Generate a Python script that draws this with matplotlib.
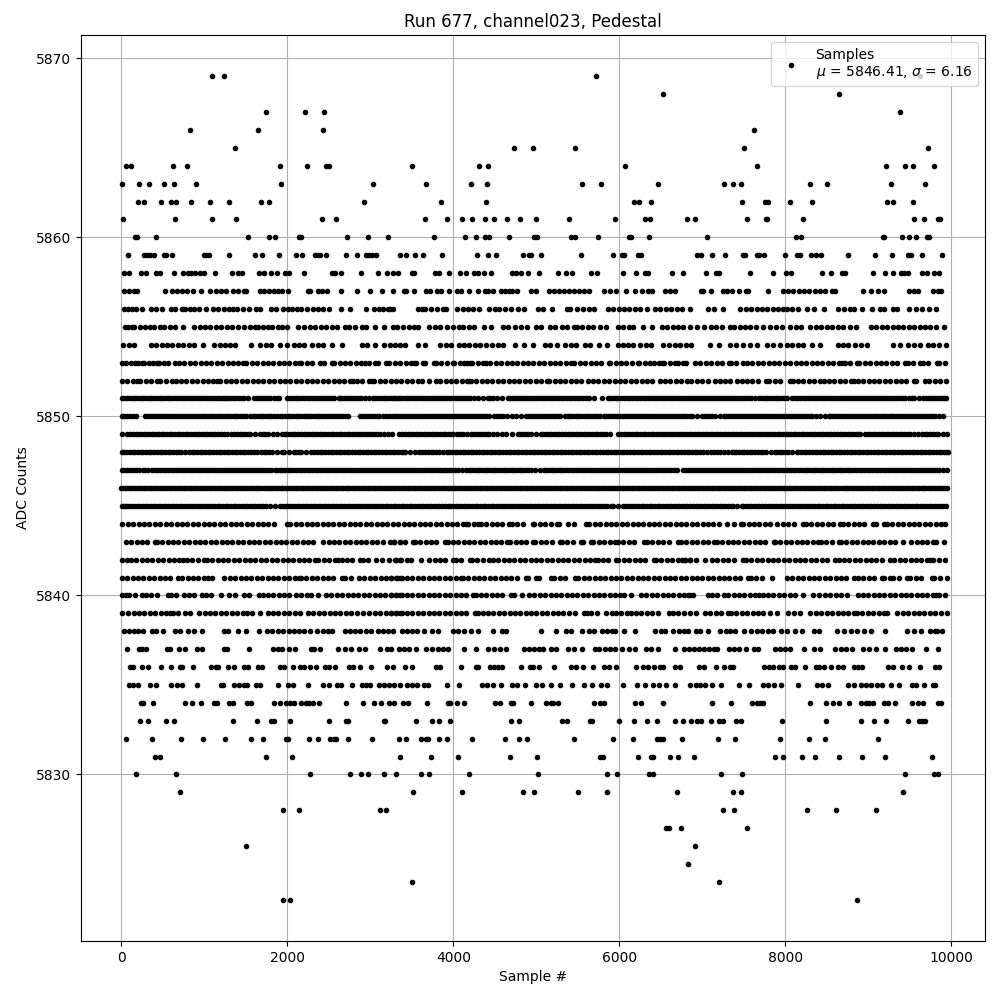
import matplotlib
matplotlib.use('Agg')
import matplotlib.pyplot as plt

# sample numbers, one list per ADC level
lvl_5869 = [1089,1234,5717,9622]
lvl_5868 = [6525,8645]
lvl_5867 = [1741,2211,2440,9381]
lvl_5866 = [824,1644,2428,7620]
lvl_5865 = [1367,4728,4958,5464,7500,9719]
lvl_5864 = [56,113,619,788,1910,2235,2464,2500,3498,4306,4415,6067,7657,9212,9441,9538,9791]
lvl_5863 = [4,209,330,511,631,896,1921,3031,3667,4210,4403,5548,5778,6465,7259,7367,7464,8296,8501,9273,9683]
lvl_5862 = [205,269,474,603,655,836,1065,1294,1680,1777,2922,3848,4391,6176,6236,6381,7476,7753,7789,8055,8320,9224,9297,9538]
lvl_5861 = [16,643,1089,1379,2416,2585,3655,3920,4101,4222,4379,4487,4644,4801,4994,5392,5946,6308,6369,6815,6909,7536,7765,7781,8211,9550,9671,9840,9864]
lvl_5860 = [169,189,414,1524,1777,1849,2143,2167,2718,2971,3212,3764,4137,4270,4379,4427,4668,4970,5002,5416,5464,5741,6115,6143,6357,7054,8127,8187,9176,9188,9405,9490,9574,9707,9735]
lvl_5859 = [76,269,310,350,390,511,539,607,993,1025,1057,1294,1608,1692,1897,2102,2175,2332,2368,2392,2464,2705,2838,2947,2983,3019,3067,3354,3426,3534,3631,3860,4282,4415,4511,4837,4909,4933,5054,5536,5922,6031,6055,6224,6260,6933,6981,7114,7271,7488,7512,7657,7681,7741,7994,8139,8175,8308,8368,8428,8754,9080,9285,9478,9518,9646,9888]
lvl_5858 = [28,88,237,293,414,462,631,740,800,836,892,945,993,1126,1331,1403,1451,1656,1717,1801,1873,1970,2018,2199,2537,2573,2645,2886,3091,3200,3272,3329,3506,3522,3776,3824,3944,4077,4150,4246,4294,4367,4451,4704,4753,4813,4897,5030,5259,5355,5428,5657,5729,6043,6200,6308,6344,6634,6767,7041,7162,7198,7572,7850,8006,8067,8440,8549,8682,8718,9056,9200,9297,9393,9429,9478,9646,9707,9791,9852]
lvl_5857 = [36,88,149,189,531,607,667,732,788,864,957,1065,1138,1198,1258,1343,1403,1475,1499,1668,1717,1777,1837,1885,1934,2006,2247,2271,2368,2416,2476,2645,2838,2995,3140,3272,3402,3434,3522,3667,3715,3800,3848,3944,4041,4089,4186,4294,4379,4415,4475,4572,4620,4668,4704,4765,4933,4994,5150,5211,5271,5331,5392,5452,5512,5573,5633,5814,5886,5958,6079,6188,6272,6344,6397,6549,6610,6670,6981,7005,7102,7247,7299,7355,7440,7524,7548,7789,7970,8030,8091,8163,8223,8284,8356,8416,8477,8561,8597,8935,9031,9116,9188,9490,9550,9598,9779,9840,9876]
lvl_5856 = [36,80,129,181,249,357,420,488,595,650,732,768,824,880,936,1021,1101,1166,1230,1294,1343,1394,1459,1540,1624,1668,1805,1860,1946,2010,2056,2110,2167,2236,2307,2368,2428,2505,2641,2750,2950,3047,3103,3152,3216,3272,3241,3570,3618,3658,3731,3804,3869,3911,4042,4120,4179,4240,4313,4432,4497,4555,4621,4691,4777,4849,5015,5080,5186,5369,5407,5489,5560,5628,5693,5859,5925,5990,6055,6120,6185,6250,6332,6430,6484,6562,6627,6692,6757,6852,7071,7140,7254,7457,7522,7587,7652,7717,7782,7847,7912,7977,8019,8084,8149,8259,8344,8465,8638,8701,8783,8829,8923,9043,9145,9183,9302,9344,9490,9575,9640,9726,9811]
lvl_5855 = [41,85,124,149,226,285,345,395,465,516,580,650,747,877,942,1007,1072,1137,1202,1267,1332,1410,1480,1545,1611,1641,1706,1771,1812,1882,1940,1993,2124,2202,2276,2335,2405,2470,2535,2600,2696,2747,2812,2897,2948,3058,3164,3269,3320,3390,3467,3525,3578,3708,3773,3838,3927,3993,4070,4120,4186,4246,4367,4455,4593,4658,4744,4814,4892,4995,5060,5158,5223,5304,5370,5447,5489,5554,5619,5684,5761,5834,5980,6045,6110,6164,6284,6389,6510,6575,6640,6705,6770,6852,6929,7017,7103,7168,7233,7334,7384,7449,7514,7579,7644,7736,7818,7883,7957,8060,8125,8190,8299,8369,8434,8499,8564,8629,8694,8781,8855,9032,9097,9162,9227,9292,9357,9422,9487,9552,9617,9682,9747,9812,9907]
lvl_5854 = [18,93,152,355,420,485,550,615,680,745,810,875,981,1119,1184,1249,1314,1370,1556,1668,1742,1807,1912,1998,2075,2140,2205,2294,2365,2430,2536,2657,2895,2958,3055,3169,3234,3299,3360,3417,3568,3658,3844,3909,3974,4072,4122,4187,4261,4323,4388,4470,4532,4603,4741,4856,4961,5103,5168,5254,5339,5417,5482,5580,5641,5749,5854,5980,6038,6100,6165,6243,6321,6384,6529,6603,6668,6733,6798,6860,7095,7205,7336,7401,7487,7577,7655,7773,7850,7934,8019,8084,8149,8214,8319,8416,8630,8695,8760,8842,8907,8987,9294,9376,9478,9555,9620,9714,9784,9849,9939]
lvl_5853 = [8,55,110,165,195,245,275,330,385,430,455,510,565,640,695,760,825,890,955,1020,1085,1150,1215,1280,1345,1410,1470,1505,1570,1635,1700,1765,1830,1895,1960,2025,2090,2135,2165,2230,2295,2390,2435,2535,2565,2630,2695,2760,2825,2890,2935,2980,3055,3095,3190,3230,3295,3360,3425,3490,3530,3545,3635,3660,3765,3790,3855,3920,3990,4010,4075,4130,4165,4200,4230,4295,4360,4395,4445,4510,4575,4640,4705,4770,4835,4900,4965,5030,5095,5160,5225,5290,5355,5415,5457,5522,5587,5652,5717,5782,5870,5890,5955,6020,6085,6150,6220,6240,6305,6370,6412,6475,6512,6542,6607,6672,6703,6768,6805,6910,6975,7040,7105,7170,7235,7315,7344,7409,7495,7537,7602,7667,7732,7797,7862,7927,7992,8057,8122,8187,8252,8317,8382,8447,8512,8577,8642,8682,8719,8784,8862,8892,8957,9022,9087,9152,9217,9282,9347,9445,9475,9540,9617,9655,9720,9826,9856,9927]
lvl_5852 = [5,70,135,192,226,291,356,433,467,532,606,660,717,782,847,912,977,1042,1107,1157,1191,1256,1321,1386,1451,1516,1581,1646,1711,1776,1841,1906,1971,2036,2101,2166,2231,2296,2361,2426,2491,2556,2621,2686,2757,2787,2837,2898,2980,3018,3048,3113,3178,3243,3308,3373,3438,3503,3568,3618,3708,3791,3841,3906,3971,4036,4101,4166,4193,4211,4276,4341,4406,4471,4536,4601,4666,4731,4796,4861,4926,4991,5056,5125,5155,5220,5285,5350,5415,5480,5540,5618,5683,5748,5813,5878,5943,6008,6073,6138,6203,6268,6333,6398,6492,6550,6615,6680,6745,6810,6860,6934,6999,7064,7153,7218,7272,7337,7414,7474,7537,7602,7667,7768,7806,7871,7936,8050,8088,8153,8218,8283,8348,8419,8461,8526,8591,8656,8721,8786,8829,8872,8937,9002,9067,9132,9197,9262,9327,9392,9457,9553,9575,9686,9736,9801,9866,9939]
lvl_5851 = [5,70,135,200,265,330,395,460,525,590,655,727,757,822,887,952,1017,1082,1147,1212,1261,1287,1352,1417,1482,1531,1601,1666,1731,1796,1872,1902,2001,2035,2100,2165,2234,2264,2329,2403,2433,2498,2563,2616,2630,2695,2760,2825,2890,2978,3028,3093,3158,3223,3288,3340,3359,3424,3489,3554,3619,3684,3749,3814,3879,3944,4009,4074,4139,4204,4250,4299,4362,4412,4477,4583,4653,4718,4783,4848,4913,4978,5043,5108,5173,5238,5303,5368,5433,5498,5563,5628,5698,5789,5859,5924,5989,6054,6119,6184,6249,6314,6379,6444,6509,6574,6639,6704,6769,6834,6899,6964,7029,7094,7159,7224,7289,7354,7419,7484,7549,7635,7686,7751,7816,7881,7946,8017,8080,8145,8210,8275,8340,8405,8470,8535,8600,8665,8730,8795,8860,8925,8990,9055,9120,9185,9250,9315,9380,9445,9525,9555,9658,9696,9761,9826,9891,9939,
            37,102,167,232,297,362,427,492,557,622,690,789,854,919,984,1049,1114,1179,1236,1319,1384,1449,1633,1698,1763,1834,2067,2132,2199,2296,2366,2465,2530,2662,2727,2792,2857,2934,3060,3125,3190,3255,3314,3391,3456,3521,3586,3651,3716,3781,3846,3911,3976,4041,4106,4171,4444,4530,4685,4750,4815,4880,4945,5010,5075,5140,5205,5270,5335,5400,5465,5530,5595,5891,5956,6021,6086,6151,6216,6281,6346,6411,6476,6541,6606,6671,6736,6801,6866,6931,6996,7061,7126,7191,7256,7321,7386,7451,7516,7590,7718,7783,7848,7913,7980,8112,8177,8242,8307,8372,8437,8502,8567,8632,8697,8762,8827,8892,8957,9022,9087,9152,9217,9282,9347,9412,9485,9606,9728,9793,9858,9915]
lvl_5850 = [5,70,144,174,284,315,380,445,510,575,640,705,770,835,900,965,1030,1095,1160,1225,1290,1355,1410,1440,1505,1591,1613,1678,1743,1808,1873,1938,2003,2068,2133,2198,2254,2276,2341,2395,2433,2498,2563,2628,2696,2730,2879,2944,3009,3078,3108,3190,3229,3294,3359,3424,3489,3554,3619,3684,3749,3814,3879,3944,4009,4074,4139,4201,4231,4296,4361,4434,4492,4557,4643,4700,4754,4876,4902,4967,5032,5097,5162,5227,5286,5344,5409,5474,5539,5604,5669,5734,5809,5839,5904,5969,6034,6099,6164,6229,6294,6359,6424,6489,6554,6619,6684,6749,6814,6879,6992,7022,7087,7152,7262,7284,7349,7414,7479,7544,7609,7674,7739,7804,7869,7934,7999,8064,8129,8194,8259,8324,8411,8478,8520,8542,8607,8672,8737,8802,8867,8932,8997,9062,9127,9192,9255,9282,9347,9412,9477,9542,9607,9672,9737,9802,9899,
            37,107,347,412,477,542,607,672,737,802,867,932,997,1062,1127,1192,1257,1322,1382,1472,1548,1645,1710,1775,1840,1905,1970,2035,2100,2165,2226,2308,2368,2465,2530,2595,2662,2911,2976,3043,3149,3261,3326,3391,3456,3521,3586,3651,3716,3781,3846,3911,3976,4041,4106,4170,4263,4328,4398,4524,4600,4815,4934,4999,5064,5129,5194,5256,5376,5441,5506,5571,5636,5701,5771,5871,5936,6001,6066,6131,6196,6261,6326,6391,6456,6521,6586,6651,6716,6781,6846,6935,7054,7119,7207,7316,7381,7446,7511,7576,7641,7706,7771,7836,7901,7966,8031,8096,8161,8226,8291,8367,8574,8639,8704,8769,8834,8899,8964,9029,9094,9159,9223,9314,9379,9444,9509,9574,9639,9704,9769,9850]
lvl_5849 = [5,63,105,170,235,300,365,430,485,515,580,645,710,775,840,905,970,1035,1100,1165,1230,1317,1360,1425,1490,1555,1671,1701,1766,1880,1935,2000,2065,2130,2195,2260,2325,2390,2455,2520,2585,2650,2715,2780,2845,2910,2975,3040,3118,3161,3259,3350,3415,3480,3545,3610,3675,3740,3805,3870,3935,4000,4080,4110,4213,4239,4304,4369,4434,4522,4584,4633,4776,4806,4871,4936,5053,5083,5148,5213,5278,5343,5408,5473,5538,5603,5668,5733,5798,5889,5988,6053,6118,6183,6248,6313,6378,6443,6508,6573,6638,6703,6768,6833,6898,6963,7028,7093,7158,7223,7288,7353,7418,7483,7548,7613,7678,7743,7808,7873,7938,8003,8068,8133,8198,8263,8328,8393,8458,8523,8588,8653,8718,8783,8848,8902,8964,9014,9052,9117,9182,9247,9312,9377,9442,9507,9597,9647,9712,9777,9842,9947,
            137,202,267,332,397,455,547,612,677,742,807,872,937,1002,1067,1132,1197,1275,1392,1457,1522,1612,1733,1822,1967,2032,2097,2162,2227,2292,2357,2422,2487,2552,2617,2682,2747,2812,2877,2942,3007,3080,3210,3382,3447,3512,3577,3642,3707,3772,3837,3902,3967,4040,4160,4271,4336,4401,4478,4700,4838,4903,4990,5115,5180,5245,5310,5375,5440,5505,5570,5635,5700,5765,5843,6020,6085,6150,6215,6280,6345,6410,6475,6540,6605,6670,6735,6800,6865,6930,6995,7060,7125,7190,7255,7320,7385,7450,7515,7580,7645,7710,7775,7840,7905,7970,8035,8100,8165,8230,8295,8360,8425,8490,8555,8620,8685,8750,8815,8875,8990,9084,9149,9214,9279,9344,9409,9474,9550,9679,9744,9809,9895]
lvl_5848 = [5,70,135,200,265,330,395,460,525,590,655,720,819,845,910,975,1040,1105,1170,1235,1300,1365,1430,1495,1560,1631,1681,1746,1811,1933,1955,2081,2103,2168,2282,2325,2390,2455,2520,2585,2650,2715,2780,2845,2910,2975,3040,3105,3170,3235,3300,3365,3417,3479,3537,3588,3653,3726,3756,3821,3927,3949,4014,4079,4144,4209,4274,4339,4404,4469,4534,4599,4664,4729,4794,4859,4924,4989,5054,5119,5184,5249,5314,5379,5444,5509,5574,5639,5704,5769,5834,5899,5964,6029,6094,6159,6224,6289,6354,6419,6484,6549,6614,6679,6744,6809,6874,6939,7004,7101,7143,7213,7264,7354,7376,7441,7506,7571,7636,7701,7766,7877,7899,7964,8029,8138,8156,8221,8286,8351,8416,8481,8546,8611,8676,8741,8806,8871,8936,9001,9066,9131,9196,9261,9326,9391,9456,9521,9586,9651,9716,9781,9846,9911,9955,
            37,102,167,232,297,362,427,492,557,622,687,770,877,942,1007,1072,1137,1202,1267,1332,1397,1462,1527,1595,1713,1778,1872,2018,2135,2225,2357,2422,2487,2552,2617,2682,2747,2812,2877,2942,3007,3072,3137,3202,3267,3332,3390,3620,3690,3788,3874,3981,4046,4111,4176,4241,4306,4371,4436,4501,4566,4631,4696,4761,4826,4891,4956,5021,5086,5151,5216,5281,5346,5411,5476,5541,5606,5671,5736,5801,5866,5931,5996,6061,6126,6191,6256,6321,6386,6451,6516,6581,6646,6711,6776,6841,6906,6971,7052,7178,7309,7408,7473,7538,7603,7668,7733,7821,7931,7996,8083,8188,8253,8318,8383,8448,8513,8578,8643,8708,8773,8838,8903,8968,9033,9098,9163,9228,9293,9358,9423,9488,9553,9618,9683,9748,9813,9878,9933]
lvl_5847 = [5,70,135,216,254,325,367,432,497,562,627,692,757,822,887,948,982,1047,1112,1177,1242,1307,1372,1437,1502,1567,1632,1697,1762,1852,1874,1939,2004,2069,2134,2199,2264,2329,2394,2459,2524,2589,2654,2719,2784,2849,2914,2979,3044,3109,3174,3239,3304,3369,3434,3499,3564,3629,3694,3759,3831,3849,3914,3979,4060,4105,4150,4215,4280,4345,4410,4475,4540,4605,4670,4735,4800,4865,4930,5045,5087,5152,5217,5282,5347,5412,5477,5548,5578,5643,5708,5773,5838,5903,5968,6033,6098,6163,6228,6293,6358,6423,6488,6553,6618,6693,6763,6801,6866,6931,6996,7061,7126,7191,7256,7321,7386,7451,7516,7581,7646,7711,7776,7841,7906,7971,8036,8101,8166,8231,8296,8361,8426,8491,8556,8621,8686,8751,8816,8881,8946,9011,9076,9141,9206,9271,9336,9401,9466,9531,9596,9661,9726,9791,9856,9947,
            37,102,175,290,399,464,529,594,659,724,789,854,917,1014,1079,1144,1209,1274,1339,1404,1469,1534,1599,1664,1729,1807,1906,1971,2036,2101,2166,2231,2296,2361,2426,2491,2556,2621,2686,2751,2816,2881,2946,3011,3076,3141,3206,3271,3336,3401,3466,3531,3596,3661,3726,3795,3881,3946,4020,4182,4247,4312,4377,4442,4507,4572,4637,4702,4767,4832,4897,4988,5119,5184,5249,5314,5379,5444,5512,5610,5675,5740,5805,5870,5935,6000,6065,6130,6195,6260,6325,6390,6455,6520,6585,6655,6833,6898,6963,7028,7093,7158,7223,7288,7353,7418,7483,7548,7613,7678,7743,7808,7873,7938,8003,8068,8133,8198,8263,8328,8393,8458,8523,8588,8653,8718,8783,8848,8913,8978,9043,9108,9173,9238,9303,9368,9433,9498,9563,9628,9693,9758,9823,9900]
lvl_5846 = [0,60,120,180,240,300,360,420,480,540,600,660,720,780,840,900,960,1020,1080,1118,1140,1200,1260,1320,1380,1440,1500,1560,1620,1680,1750,1800,1860,1920,1980,2040,2100,2160,2220,2280,2340,2400,2460,2520,2580,2640,2700,2760,2820,2880,2940,3000,3060,3120,3180,3240,3300,3360,3420,3480,3540,3600,3660,3720,3780,3840,3900,3960,4020,4080,4140,4200,4260,4320,4380,4440,4500,4560,4620,4680,4740,4800,4860,4920,4980,5040,5100,5160,5220,5280,5340,5400,5460,5520,5580,5640,5700,5760,5820,5880,5940,6000,6060,6120,6180,6240,6300,6360,6420,6480,6540,6600,6660,6720,6780,6840,6900,6960,7020,7080,7140,7200,7260,7320,7380,7440,7500,7560,7620,7680,7740,7800,7860,7920,7980,8040,8100,8160,8220,8280,8340,8400,8460,8520,8580,8640,8721,8745,8800,8860,8920,8980,9040,9100,9160,9220,9280,9340,9400,9460,9520,9580,9640,9700,9760,9820,9880,9950,
            30,90,150,210,270,330,390,450,510,570,630,690,750,810,870,930,990,1050,1170,1230,1290,1350,1410,1470,1530,1590,1650,1715,1775,1830,1890,1950,2010,2070,2130,2190,2250,2310,2370,2430,2490,2550,2610,2670,2730,2790,2850,2910,2970,3030,3090,3150,3210,3270,3330,3390,3450,3510,3570,3630,3690,3750,3810,3870,3930,3990,4050,4110,4170,4230,4290,4350,4410,4470,4530,4590,4650,4710,4770,4830,4890,4950,5010,5070,5130,5190,5250,5310,5370,5430,5490,5550,5610,5670,5730,5790,5850,5910,5970,6030,6090,6150,6210,6270,6330,6390,6450,6510,6570,6630,6690,6750,6810,6870,6930,6990,7050,7110,7170,7230,7290,7350,7410,7470,7530,7590,7650,7710,7770,7830,7890,7950,8010,8070,8130,8190,8250,8310,8370,8430,8490,8550,8610,8680,8770,8830,8890,8950,9010,9070,9130,9190,9250,9310,9370,9430,9490,9550,9610,9670,9730,9790,9850,9915]
lvl_5845 = [5,31,53,118,183,248,313,378,443,508,573,638,703,768,833,898,963,1028,1093,1158,1223,1288,1353,1418,1483,1548,1613,1678,1743,1852,1915,1980,2045,2110,2175,2240,2305,2370,2435,2500,2565,2630,2695,2760,2825,2890,2955,3020,3085,3150,3215,3280,3345,3410,3475,3540,3605,3670,3735,3800,3865,3930,3995,4060,4125,4190,4255,4320,4385,4450,4515,4580,4645,4710,4775,4840,4905,4970,5035,5100,5165,5230,5295,5360,5425,5490,5555,5620,5685,5750,5815,5897,5927,6042,6072,6137,6202,6267,6332,6397,6462,6527,6592,6657,6722,6787,6852,6917,6982,7047,7112,7177,7242,7307,7372,7475,7493,7558,7623,7688,7753,7825,7867,7932,7997,8062,8127,8192,8257,8322,8387,8452,8517,8582,8647,8712,8777,8842,8907,8972,9037,9102,9167,9232,9297,9362,9427,9492,9557,9625,9663,9728,9793,9858,9939,
            85,150,215,280,345,410,475,540,605,670,735,800,865,930,995,1060,1125,1190,1255,1320,1385,1450,1515,1580,1645,1710,1790,1947,2012,2077,2142,2207,2272,2337,2402,2467,2532,2597,2662,2727,2792,2857,2922,2987,3052,3117,3182,3247,3312,3377,3442,3507,3572,3637,3702,3767,3832,3897,3962,4027,4092,4157,4222,4287,4352,4417,4482,4547,4612,4677,4742,4807,4872,4937,5002,5067,5132,5197,5262,5327,5392,5457,5522,5587,5652,5717,5782,5850,5985,6104,6169,6234,6299,6364,6429,6494,6559,6624,6689,6754,6819,6884,6949,7014,7079,7144,7209,7274,7339,7420,7525,7590,7655,7720,7790,7899,7964,8029,8094,8159,8224,8289,8354,8419,8484,8549,8614,8679,8744,8809,8874,8939,9004,9069,9134,9199,9264,9329,9394,9459,9524,9590,9695,9760,9825,9900]
lvl_5844 = [13,78,143,208,273,338,403,465,536,601,666,731,796,861,926,991,1056,1121,1186,1251,1316,1381,1446,1511,1576,1641,1706,1772,1842,1993,2035,2100,2165,2230,2295,2360,2425,2490,2555,2620,2685,2750,2815,2880,2945,3010,3075,3140,3205,3270,3332,3399,3464,3529,3594,3659,3724,3789,3854,3919,3984,4049,4114,4152,4179,4244,4301,4331,4396,4461,4526,4591,4667,4705,4770,4835,4953,4975,5040,5105,5170,5246,5276,5379,5457,5596,5638,5703,5768,5833,5898,5963,6028,6093,6158,6223,6288,6353,6418,6483,6548,6613,6678,6743,6808,6873,6938,7003,7068,7133,7198,7294,7384,7463,7493,7558,7623,7688,7753,7818,7897,7971,8036,8101,8218,8249,8314,8379,8444,8509,8574,8661,8691,8756,8821,8886,8951,9055,9093,9191,9225,9290,9355,9420,9485,9550,9615,9680,9745,9810,9875,9927]
lvl_5843 = [53,118,183,248,313,405,427,492,557,622,687,752,817,882,947,1012,1077,1142,1207,1272,1337,1402,1467,1532,1597,1662,1727,1792,1857,1922,1987,2052,2117,2182,2247,2312,2427,2497,2562,2627,2692,2757,2822,2887,2952,3017,3082,3147,3239,3289,3360,3286,3351,3416,3509,3535,3600,3665,3730,3795,3899,3929,3994,4059,4124,4189,4254,4319,4384,4449,4514,4579,4643,4685,4750,4815,4880,4957,4987,5052,5117,5182,5286,5308,5373,5438,5540,5566,5656,5686,5751,5816,5881,5950,5980,6045,6110,6175,6299,6333,6398,6463,6528,6593,6701,6743,6808,6873,6938,7003,7068,7141,7175,7240,7305,7370,7435,7500,7565,7630,7695,7760,7857,7875,7940,8005,8070,8135,8200,8265,8330,8391,8429,8494,8559,8641,8671,8736,8801,8866,8931,8996,9061,9126,9191,9256,9321,9416,9515,9580,9645,9710,9778,9816,9907]
lvl_5842 = [5,71,113,178,243,308,373,438,503,568,633,698,747,789,854,919,996,1030,1095,1160,1225,1290,1355,1420,1485,1550,1611,1681,1746,1811,1876,1941,2006,2071,2136,2201,2266,2335,2373,2438,2503,2576,2609,2654,2719,2784,2877,2911,2976,3070,3144,3229,3294,3360,3305,3370,3437,3494,3615,3708,3773,3838,3903,4000,4030,4095,4201,4223,4288,4353,4430,4476,4541,4606,4671,4736,4801,4866,4931,4996,5061,5126,5191,5256,5321,5386,5451,5516,5581,5646,5708,5738,5803,5868,5962,5988,6053,6118,6183,6248,6313,6412,6442,6507,6572,6637,6702,6754,6792,6854,6789,6854,6924,7029,7115,7180,7245,7310,7375,7487,7525,7590,7655,7720,7785,7850,7915,7980,8045,8118,8176,8241,8306,8371,8436,8501,8600,8642,8707,8772,8837,8902,8967,9032,9097,9162,9264,9314,9379,9444,9509,9574,9639,9704,9746,9783,9845,9927]
lvl_5841 = [5,70,135,200,265,330,395,460,525,590,686,732,797,862,927,992,1048,1086,1237,1307,1372,1437,1502,1567,1632,1697,1762,1827,1892,1957,2022,2087,2134,2164,2229,2294,2359,2424,2489,2554,2656,2698,2763,2857,2927,2992,3057,3122,3187,3252,3317,3360,3246,3311,3376,3441,3506,3571,3636,3701,3766,3831,3896,3961,4026,4088,4114,4179,4244,4309,4374,4439,4504,4569,4634,4699,4764,4876,4902,4997,5035,5174,5216,5281,5346,5467,5505,5570,5635,5700,5765,5830,5895,5960,6025,6090,6155,6220,6285,6350,6415,6480,6545,6610,6675,6740,6805,6870,6935,7000,7065,7130,7195,7260,7325,7390,7455,7555,7585,7650,7715,7837,8019,8084,8149,8214,8279,8344,8409,8474,8539,8604,8669,8734,8829,8872,8937,9002,9067,9163,9193,9264,9302,9367,9465,9507,9572,9637,9766,9796,9861,9947]
lvl_5840 = [5,55,93,158,244,294,359,424,558,596,661,759,812,877,968,1018,1083,1197,1299,1364,1478,1541,1663,1701,1766,1831,1896,1961,2025,2103,2168,2234,2283,2368,2465,2530,2595,2660,2725,2790,2855,2920,2985,3050,3115,3180,3245,3310,3360,3246,3311,3376,3441,3506,3571,3636,3701,3766,3831,3896,3961,4026,4091,4156,4241,4278,4331,4396,4461,4526,4591,4691,4733,4824,4909,4975,5040,5105,5170,5235,5300,5365,5430,5495,5560,5625,5690,5755,5820,5885,5950,6010,6055,6143,6261,6326,6391,6456,6521,6586,6651,6716,6774,6824,6854,6884,7073,7111,7176,7262,7312,7377,7442,7507,7572,7637,7688,7726,7791,7856,7921,7986,8051,8118,8216,8336,8409,8474,8539,8604,8669,8741,8875,8932,8997,9062,9127,9192,9257,9322,9387,9452,9517,9582,9647,9712,9777,9818,9856,9927]
lvl_5839 = [8,81,146,211,276,341,406,471,536,586,616,681,767,824,938,1003,1068,1133,1198,1263,1328,1393,1470,1508,1573,1671,1762,1827,1892,1957,2022,2087,2152,2254,2313,2378,2443,2508,2573,2638,2703,2768,2833,2909,2988,3053,3118,3183,3248,3313,3360,3246,3311,3376,3441,3506,3571,3636,3701,3766,3831,3896,3961,4026,4091,4156,4261,4294,4351,4416,4481,4546,4611,4676,4741,4806,4871,4936,5001,5066,5131,5196,5261,5326,5395,5460,5570,5608,5661,5733,5839,5909,5959,6024,6090,6135,6201,6266,6331,6396,6461,6593,6643,6708,6773,6854,6919,7032,7095,7160,7225,7314,7344,7409,7474,7539,7604,7669,7734,7816,7902,8035,8108,8173,8291,8369,8434,8499,8564,8629,8694,8759,8829,8864,8929,8994,9059,9124,9191,9225,9344,9414,9479,9544,9609,9674,9739,9804,9869,9947]
lvl_5838 = [36,88,149,197,257,366,414,498,651,703,800,872,973,1234,1282,1407,1507,1656,1753,1813,1885,1946,2018,2078,2139,2199,2271,2356,2428,2488,2537,2693,2754,2814,2874,2947,3007,3091,3152,3212,3272,3378,3442,3502,3563,3643,3739,3812,3993,4053,4125,4206,4294,4475,4584,4632,5054,5235,5355,5416,5548,5633,5693,5786,5854,5914,5946,6055,6188,6429,6497,6549,6646,6718,6779,6827,6925,6977,7066,7210,7279,7331,7391,7500,7580,7661,7721,7789,7854,7942,8022,8115,8199,8344,8404,8621,8706,8786,8867,8947,9027,9200,9466,9550,9638,9743,9799,9831,9888]
lvl_5837 = [64,209,245,293,547,583,691,764,908,969,1234,1270,1536,1825,1885,1934,2018,2090,2283,2320,2392,2609,2693,2766,2862,2935,3115,3200,3248,3345,3402,3462,3547,3667,3739,3812,3872,3932,4125,4270,4415,4487,4560,4632,4849,4909,4970,5030,5078,5175,5235,5380,5452,5548,5709,5754,5826,5886,5946,6031,6115,6188,6320,6381,6465,6670,6779,6836,6897,6957,7017,7078,7138,7178,7319,7379,7440,7524,7620,7669,7874,7934,7994,8055,8223,8344,8416,8597,8665,8734,8802,8935,9007,9088,9196,9329,9389,9454,9526,9695,9840]
lvl_5836 = [108,137,245,318,474,595,703,732,860,1085,1134,1162,1282,1355,1475,1524,1644,1692,1910,1958,2066,2151,2199,2271,2344,2452,2500,2573,2742,2790,2874,3007,3200,3272,3414,3498,3788,3836,4089,4270,4294,4439,4487,4535,4584,4813,4921,4958,5030,5211,5416,5476,5561,5681,5814,5874,5958,6200,6284,6344,6417,6489,6525,6670,6736,6957,7017,7162,7259,7331,7367,7741,7801,7850,7922,7970,8067,8115,8235,8368,8404,8465,8549,8633,8694,8826,8875,8923,9236,9297,9405,9490,9622,9803,9852]
lvl_5835 = [96,137,197,342,414,595,667,728,908,1198,1222,1355,1415,1475,1515,1620,1668,1885,2006,2066,2247,2428,2500,2597,2645,2778,2898,2947,2995,3103,3164,3224,3284,3357,3442,3502,3563,3643,3691,3924,4073,4346,4407,4475,4576,4704,4769,4861,4994,5070,5175,5283,5428,5573,5669,5782,5854,6043,6216,6308,6405,6477,6561,6670,6849,6917,6977,7037,7118,7222,7440,7560,7729,7789,7862,7942,8151,8380,8440,8513,8754,8826,8907,8967,9027,9108,9168,9273,9373,9526,9574,9671,9779,9803]
lvl_5834 = [233,257,378,764,852,957,1114,1150,1294,1343,1512,1560,1837,1910,1982,2030,2078,2163,2223,2259,2308,2380,2705,2910,3043,3128,3224,3284,3390,3450,3679,3932,3957,4041,4125,4499,4560,4692,4716,4933,5114,5175,5199,5259,5693,5766,5814,6188,6260,6525,7114,7343,7596,7657,7693,7729,8296,8489,8573,8645,8766,8911,8971,9007,9056,9188,9236,9321,9526,9598,9658,9840,9876]
lvl_5833 = [221,318,535,631,1343,1632,1801,1837,2030,2500,2705,2730,3164,3176,3547,3739,3824,3957,4692,4789,5307,5368,5645,5669,5995,6176,6332,6453,6670,6767,6865,6933,6981,7102,7198,7247,7403,7464,7958,8489,8911,9068,9212,9478,9610,9646,9683]
lvl_5832 = [52,366,716,981,1254,1560,1704,1982,2006,2259,2368,2513,2561,2585,2730,3019,3345,3426,3607,3667,3691,3824,3920,4222,4620,4789,4885,5452,5922,6164,6453,6489,6525,6755,7186,7391,7934,8284,8477,9116]
lvl_5831 = [402,462,1741,2054,3357,3727,4053,4680,5006,5766,5798,6224,6381,6405,6610,6706,6897,7874,7970,8199,8356,8645,8923,9200,9767]
lvl_5830 = [173,655,2271,2754,2886,2971,3164,3308,3607,3703,4186,5018,5850,5971,6357,6405,7222,7476,9441,9791,9840]
lvl_5829 = [703,3510,4101,4837,4970,5500,5850,6694,7367,7464,9417]
lvl_5828 = [1946,2139,3115,3188,7247,7379,8260,8609,9092]
lvl_5827 = [6561,6598,6742,7536]
lvl_5826 = [1499,6909]
lvl_5825 = [6824]
lvl_5824 = [3498,7198]
lvl_5823 = [1946,2030,8863]

levels = [5869,5868,5867,5866,5865,5864,5863,5862,5861,5860,5859,5858,5857,5856,5855,5854,5853,5852,5851,5850,5849,5848,5847,5846,5845,5844,5843,5842,5841,5840,5839,5838,5837,5836,5835,5834,5833,5832,5831,5830,5829,5828,5827,5826,5825,5824,5823]
rows = [lvl_5869,lvl_5868,lvl_5867,lvl_5866,lvl_5865,lvl_5864,lvl_5863,lvl_5862,lvl_5861,lvl_5860,lvl_5859,lvl_5858,lvl_5857,lvl_5856,lvl_5855,lvl_5854,lvl_5853,lvl_5852,lvl_5851,lvl_5850,lvl_5849,lvl_5848,lvl_5847,lvl_5846,lvl_5845,lvl_5844,lvl_5843,lvl_5842,lvl_5841,lvl_5840,lvl_5839,lvl_5838,lvl_5837,lvl_5836,lvl_5835,lvl_5834,lvl_5833,lvl_5832,lvl_5831,lvl_5830,lvl_5829,lvl_5828,lvl_5827,lvl_5826,lvl_5825,lvl_5824,lvl_5823]

x = []
y = []
for lvl, row in zip(levels, rows):
    x += row
    y += [lvl]*len(row)

plt.figure(figsize=(10,10), dpi=100)
plt.plot(x, y, 'k.', label='Samples\n$\\mu$ = 5846.41, $\\sigma$ = 6.16')
plt.xlim(-487, 10405)
plt.xlabel('Sample #')
plt.ylabel('ADC Counts')
plt.title('Run 677, channel023, Pedestal')
plt.grid(True)
plt.legend(loc='upper right')
plt.subplots_adjust(left=0.081, right=0.985, top=0.965, bottom=0.059)
plt.savefig('out.png')
